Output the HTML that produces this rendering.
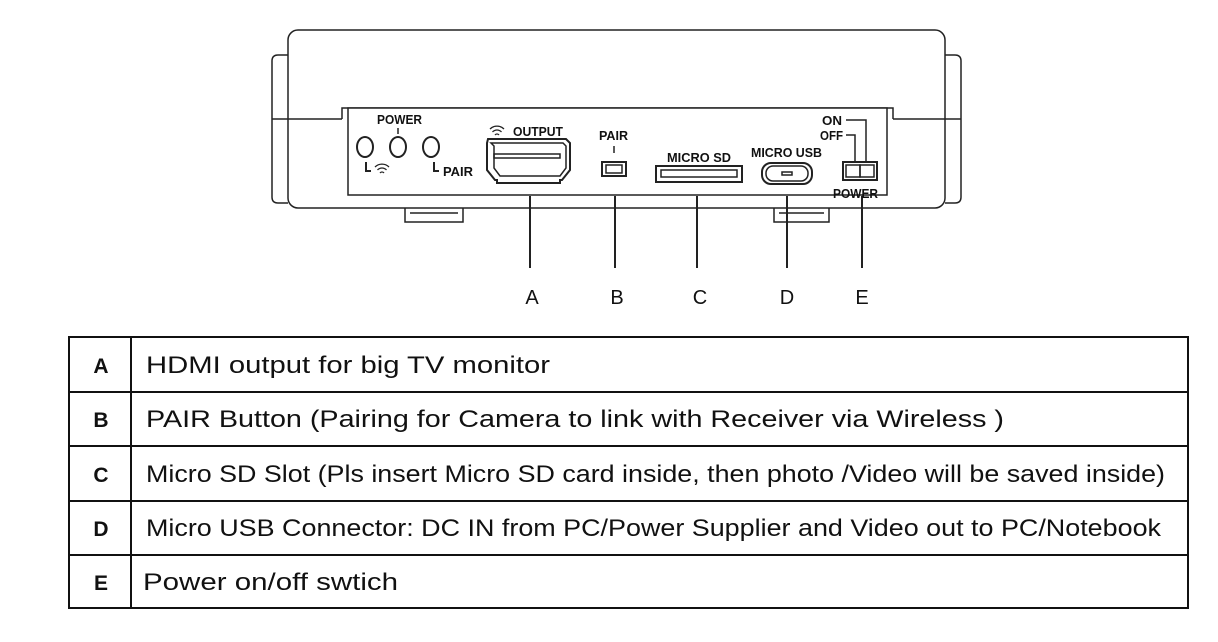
<!DOCTYPE html>
<html><head><meta charset="utf-8"><style>
body{margin:0;background:#fff;width:1218px;height:637px;overflow:hidden;font-family:"Liberation Sans",Arial,sans-serif}
</style></head><body>
<svg width="1218" height="637" viewBox="0 0 1218 637" xmlns="http://www.w3.org/2000/svg" font-family="Liberation Sans, Arial, sans-serif">
<g fill="none" stroke="#222" stroke-width="1.5">
<path d="M288 55 h-10 q-6 0 -6 6 v136 q0 6 6 6 h10"/>
<path d="M945 55 h10 q6 0 6 6 v136 q0 6 -6 6 h-10"/>
<rect x="288" y="30" width="657" height="178" rx="10"/>
<line x1="272" y1="119" x2="342" y2="119"/>
<line x1="893" y1="119" x2="961" y2="119"/>
<path d="M405 208 v14 h58 v-14"/><line x1="410" y1="213" x2="458" y2="213"/>
<path d="M774 208 v14 h55 v-14"/><line x1="779" y1="213" x2="824" y2="213"/>
<path d="M342 119 v-11 h551 v11"/>
<rect x="348" y="108" width="539" height="87" fill="#fff"/>
<g stroke-width="2">
<ellipse cx="365" cy="147" rx="8" ry="10"/>
<ellipse cx="398" cy="147" rx="8" ry="10"/>
<ellipse cx="431" cy="147" rx="8" ry="10"/>
</g>
<line x1="398" y1="128" x2="398" y2="134"/>
<path d="M366 162 v9 h5 M434 162 v9 h5" stroke-width="2"/>
<path d="M488 139 h78 l4 4 v27 l-8 10 h-2 v3 h-63 v-3 h-2 l-8 -10 v-27 z" stroke-width="2"/>
<path d="M491 143 h72 l3 3 v22 l-6 8 h-60 l-6 -8 v-22 z"/>
<rect x="494" y="154" width="66" height="4"/>
<line x1="614" y1="146" x2="614" y2="153"/>
<rect x="602" y="162" width="24" height="14" stroke-width="2"/>
<rect x="606" y="165" width="16" height="8"/>
<rect x="656" y="166" width="86" height="16" stroke-width="2"/>
<rect x="661" y="170" width="76" height="7"/>
<rect x="762" y="163" width="50" height="21" rx="9" stroke-width="2"/>
<rect x="766" y="166" width="42" height="15" rx="7"/>
<rect x="782" y="172" width="10" height="3"/>
<rect x="843" y="162" width="34" height="18" stroke-width="2"/>
<rect x="846" y="165" width="14" height="12"/>
<rect x="860" y="165" width="14" height="12"/>
<path d="M846 120 h20 v42 M846 135 h9 v27"/>
<g stroke-width="2">
<line x1="530" y1="196" x2="530" y2="268"/>
<line x1="615" y1="196" x2="615" y2="268"/>
<line x1="697" y1="196" x2="697" y2="268"/>
<line x1="787" y1="196" x2="787" y2="268"/>
<line x1="862" y1="196" x2="862" y2="268"/>
</g>
</g>
<g fill="none" stroke="#222" stroke-width="1.3">
<path d="M375 167 a10 10 0 0 1 14 0 M377.5 170 a6 6 0 0 1 9 0 M380 173 a2.5 2.5 0 0 1 4 0"/>
<path d="M490 129 a10 10 0 0 1 14 0 M492.5 132 a6 6 0 0 1 9 0 M495 135 a2.5 2.5 0 0 1 4 0"/>
</g>
<g font-weight="bold" font-size="13" fill="#111">
<text x="377" y="124" textLength="45" lengthAdjust="spacingAndGlyphs">POWER</text>
<text x="443" y="176" textLength="30" lengthAdjust="spacingAndGlyphs">PAIR</text>
<text x="513" y="136" textLength="50" lengthAdjust="spacingAndGlyphs">OUTPUT</text>
<text x="599" y="140" textLength="29" lengthAdjust="spacingAndGlyphs">PAIR</text>
<text x="667" y="162" textLength="64" lengthAdjust="spacingAndGlyphs">MICRO SD</text>
<text x="751" y="157" textLength="71" lengthAdjust="spacingAndGlyphs">MICRO USB</text>
<text x="822" y="125" textLength="20" lengthAdjust="spacingAndGlyphs">ON</text>
<text x="820" y="140" textLength="23" lengthAdjust="spacingAndGlyphs">OFF</text>
<text x="833" y="198" textLength="45" lengthAdjust="spacingAndGlyphs">POWER</text>
</g>
<g font-size="20" fill="#111" text-anchor="middle">
<text x="532" y="304">A</text><text x="617" y="304">B</text><text x="700" y="304">C</text><text x="787" y="304">D</text><text x="862" y="304">E</text>
</g>
<g fill="none" stroke="#111" stroke-width="2">
<rect x="69" y="337" width="1119" height="271"/>
<line x1="131" y1="337" x2="131" y2="608"/>
<line x1="69" y1="392" x2="1188" y2="392"/>
<line x1="69" y1="446" x2="1188" y2="446"/>
<line x1="69" y1="501" x2="1188" y2="501"/>
<line x1="69" y1="555" x2="1188" y2="555"/>
</g>
<g font-size="21" font-weight="bold" fill="#111" text-anchor="middle">
<text x="101" y="373">A</text><text x="101" y="427">B</text><text x="101" y="482">C</text><text x="101" y="536">D</text><text x="101" y="590">E</text>
</g>
<g font-size="24" fill="#111" lengthAdjust="spacingAndGlyphs">
<text x="146" y="373" textLength="404" lengthAdjust="spacingAndGlyphs">HDMI output for big TV monitor</text>
<text x="146" y="427" textLength="858" lengthAdjust="spacingAndGlyphs">PAIR Button (Pairing for Camera to link with Receiver via Wireless )</text>
<text x="146" y="482" textLength="1019" lengthAdjust="spacingAndGlyphs">Micro SD Slot (Pls insert Micro SD card inside, then photo /Video will be saved inside)</text>
<text x="146" y="536" textLength="1015" lengthAdjust="spacingAndGlyphs">Micro USB Connector: DC IN from PC/Power Supplier and Video out to PC/Notebook</text>
<text x="143" y="590" textLength="255" lengthAdjust="spacingAndGlyphs">Power on/off swtich</text>
</g>
</svg>
</body></html>
